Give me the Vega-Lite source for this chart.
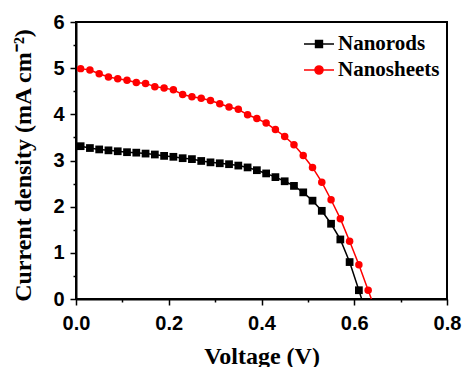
{
  "$schema": "https://vega.github.io/schema/vega-lite/v6.json",
  "width": 371,
  "height": 277,
  "autosize": {"type": "none"},
  "padding": {"left": 76, "top": 22, "right": 15, "bottom": 68},
  "background": "white",
  "config": {
    "view": {"stroke": "black", "strokeWidth": 2},
    "axis": {
      "domainColor": "black", "domainWidth": 2, "tickColor": "black", "tickWidth": 1.5,
      "grid": false, "labelFont": "Liberation Sans", "labelFontWeight": "bold", "labelFontSize": 20,
      "labelColor": "black", "titleFont": "Liberation Serif", "titleFontWeight": "bold",
      "titleFontSize": 24, "titleColor": "black"
    }
  },
  "data": {"values": [
    {"series": "Nanorods", "voltage": 0.01, "current": 3.31},
    {"series": "Nanorods", "voltage": 0.03, "current": 3.27},
    {"series": "Nanorods", "voltage": 0.05, "current": 3.24},
    {"series": "Nanorods", "voltage": 0.07, "current": 3.22},
    {"series": "Nanorods", "voltage": 0.09, "current": 3.20},
    {"series": "Nanorods", "voltage": 0.11, "current": 3.18},
    {"series": "Nanorods", "voltage": 0.13, "current": 3.17},
    {"series": "Nanorods", "voltage": 0.15, "current": 3.15},
    {"series": "Nanorods", "voltage": 0.17, "current": 3.13},
    {"series": "Nanorods", "voltage": 0.19, "current": 3.10},
    {"series": "Nanorods", "voltage": 0.21, "current": 3.08},
    {"series": "Nanorods", "voltage": 0.23, "current": 3.05},
    {"series": "Nanorods", "voltage": 0.25, "current": 3.03},
    {"series": "Nanorods", "voltage": 0.27, "current": 2.99},
    {"series": "Nanorods", "voltage": 0.29, "current": 2.96},
    {"series": "Nanorods", "voltage": 0.31, "current": 2.94},
    {"series": "Nanorods", "voltage": 0.33, "current": 2.92},
    {"series": "Nanorods", "voltage": 0.35, "current": 2.89},
    {"series": "Nanorods", "voltage": 0.37, "current": 2.85},
    {"series": "Nanorods", "voltage": 0.39, "current": 2.79},
    {"series": "Nanorods", "voltage": 0.41, "current": 2.72},
    {"series": "Nanorods", "voltage": 0.43, "current": 2.64},
    {"series": "Nanorods", "voltage": 0.45, "current": 2.55},
    {"series": "Nanorods", "voltage": 0.47, "current": 2.45},
    {"series": "Nanorods", "voltage": 0.49, "current": 2.31},
    {"series": "Nanorods", "voltage": 0.51, "current": 2.13},
    {"series": "Nanorods", "voltage": 0.53, "current": 1.91},
    {"series": "Nanorods", "voltage": 0.55, "current": 1.63},
    {"series": "Nanorods", "voltage": 0.57, "current": 1.29},
    {"series": "Nanorods", "voltage": 0.59, "current": 0.80},
    {"series": "Nanorods", "voltage": 0.61, "current": 0.19},
    {"series": "Nanorods", "voltage": 0.616, "current": 0},
    {"series": "Nanosheets", "voltage": 0.01, "current": 4.99},
    {"series": "Nanosheets", "voltage": 0.03, "current": 4.96},
    {"series": "Nanosheets", "voltage": 0.05, "current": 4.88},
    {"series": "Nanosheets", "voltage": 0.07, "current": 4.81},
    {"series": "Nanosheets", "voltage": 0.09, "current": 4.77},
    {"series": "Nanosheets", "voltage": 0.11, "current": 4.74},
    {"series": "Nanosheets", "voltage": 0.13, "current": 4.69},
    {"series": "Nanosheets", "voltage": 0.15, "current": 4.67},
    {"series": "Nanosheets", "voltage": 0.17, "current": 4.60},
    {"series": "Nanosheets", "voltage": 0.19, "current": 4.57},
    {"series": "Nanosheets", "voltage": 0.21, "current": 4.53},
    {"series": "Nanosheets", "voltage": 0.23, "current": 4.43},
    {"series": "Nanosheets", "voltage": 0.25, "current": 4.38},
    {"series": "Nanosheets", "voltage": 0.27, "current": 4.35},
    {"series": "Nanosheets", "voltage": 0.29, "current": 4.30},
    {"series": "Nanosheets", "voltage": 0.31, "current": 4.23},
    {"series": "Nanosheets", "voltage": 0.33, "current": 4.16},
    {"series": "Nanosheets", "voltage": 0.35, "current": 4.11},
    {"series": "Nanosheets", "voltage": 0.37, "current": 3.99},
    {"series": "Nanosheets", "voltage": 0.39, "current": 3.91},
    {"series": "Nanosheets", "voltage": 0.41, "current": 3.81},
    {"series": "Nanosheets", "voltage": 0.43, "current": 3.67},
    {"series": "Nanosheets", "voltage": 0.45, "current": 3.52},
    {"series": "Nanosheets", "voltage": 0.47, "current": 3.34},
    {"series": "Nanosheets", "voltage": 0.49, "current": 3.11},
    {"series": "Nanosheets", "voltage": 0.51, "current": 2.85},
    {"series": "Nanosheets", "voltage": 0.53, "current": 2.53},
    {"series": "Nanosheets", "voltage": 0.55, "current": 2.15},
    {"series": "Nanosheets", "voltage": 0.57, "current": 1.74},
    {"series": "Nanosheets", "voltage": 0.59, "current": 1.25},
    {"series": "Nanosheets", "voltage": 0.61, "current": 0.74},
    {"series": "Nanosheets", "voltage": 0.63, "current": 0.19},
    {"series": "Nanosheets", "voltage": 0.637, "current": 0}
  ]},
  "encoding": {
    "x": {
      "field": "voltage", "type": "quantitative",
      "scale": {"domain": [0, 0.8], "nice": false, "zero": false},
      "axis": {
        "title": "Voltage (V)",
        "values": [0, 0.1, 0.2, 0.3, 0.4, 0.5, 0.6, 0.7, 0.8],
        "labelExpr": "round(datum.value*10) % 2 === 0 ? format(datum.value, '.1f') : ''",
        "tickSize": {"condition": {"test": "round(datum.value*10) % 2 === 0", "value": 6}, "value": 3},
        "labelPadding": 8, "titlePadding": 11, "labelFlush": false, "labelOverlap": false
      }
    },
    "y": {
      "field": "current", "type": "quantitative",
      "scale": {"domain": [0, 6], "nice": false},
      "axis": {
        "title": "Current density (mA cm⁻²)",
        "values": [0, 0.5, 1, 1.5, 2, 2.5, 3, 3.5, 4, 4.5, 5, 5.5, 6],
        "labelExpr": "datum.value % 1 === 0 ? format(datum.value, 'd') : ''",
        "tickSize": {"condition": {"test": "datum.value % 1 === 0", "value": 6}, "value": 3},
        "labelPadding": 6, "titlePadding": 17, "titleY": 143, "labelFlush": false, "labelOverlap": false
      }
    },
    "color": {
      "field": "series", "type": "nominal",
      "scale": {"domain": ["Nanorods", "Nanosheets"], "range": ["black", "#ff0000"]},
      "legend": {
        "title": null, "orient": "none", "legendX": 227, "legendY": 6, "padding": 0,
        "labelFont": "Liberation Serif", "labelFontWeight": "bold", "labelFontSize": 21,
        "labelColor": "black", "labelOffset": 3, "symbolSize": 900, "symbolStrokeWidth": 1.5,
        "rowPadding": -9,
        "encode": {"symbols": {"update": {
          "shape": {"signal": "datum.value === 'Nanorods' ? 'M-1,0H1M-0.23,-0.23H0.23V0.23H-0.23Z' : 'M-1,0H1M0.27,0A0.27,0.27,0,1,1,-0.27,0A0.27,0.27,0,1,1,0.27,0Z'"},
          "fill": {"signal": "datum.value === 'Nanorods' ? 'black' : '#ff0000'"},
          "stroke": {"signal": "datum.value === 'Nanorods' ? 'black' : '#ff0000'"},
          "strokeWidth": {"value": 1.5}
        }}}
      }
    }
  },
  "layer": [
    {"mark": {"type": "line", "strokeWidth": 1.5}, "encoding": {"order": {"field": "voltage"}}},
    {
      "transform": [{"filter": "datum.current > 0 && datum.series === 'Nanorods'"}],
      "mark": {"type": "point", "shape": "square", "filled": true, "opacity": 1, "size": 60},
      "encoding": {}
    },
    {
      "transform": [{"filter": "datum.current > 0 && datum.series === 'Nanosheets'"}],
      "mark": {"type": "point", "shape": "circle", "filled": true, "opacity": 1, "size": 56},
      "encoding": {}
    }
  ]
}
